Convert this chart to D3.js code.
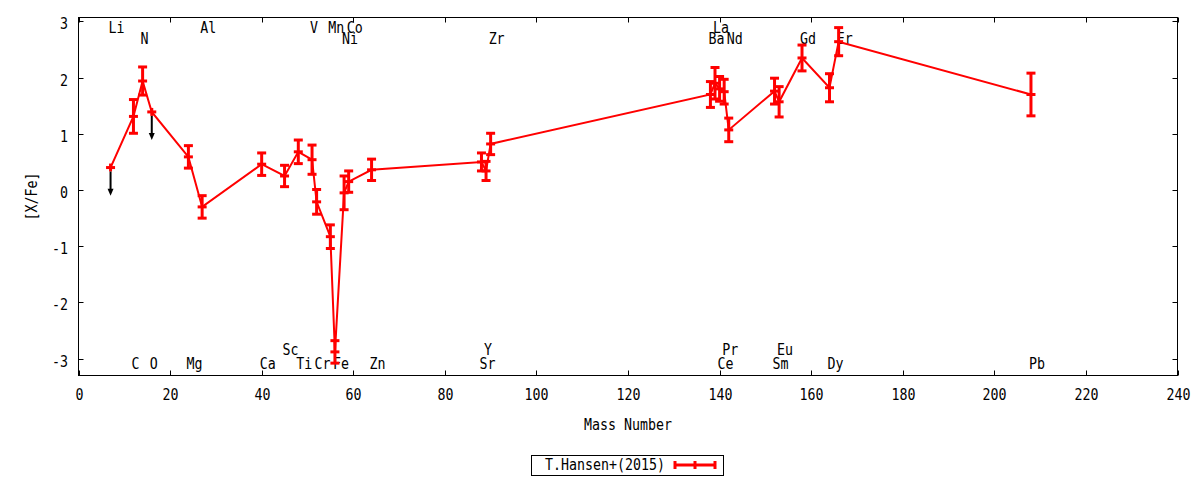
<!DOCTYPE html>
<html>
<head>
<meta charset="utf-8">
<script src="https://cdn.jsdelivr.net/npm/d3@7"></script>
<style>
    body { margin: 0; background: #ffffff; }
    text { font-family: "DejaVu Sans Mono", monospace; font-size: 15px; fill: #000000; }
</style>
</head>
<body>
<script>
// 数据点：元素、质量数、[X/Fe]、误差
const elements = ['Li', 'C', 'N', 'O', 'Mg', 'Al', 'Ca', 'Sc', 'Ti', 'V', 'Cr', 'Mn', 'Fe', 'Ni', 'Co', 'Zn',
    'Sr', 'Y', 'Zr', 'Ba', 'La', 'Ce', 'Pr', 'Nd', 'Sm', 'Eu', 'Gd', 'Dy', 'Er', 'Pb'];
const massNumbers = [7, 12, 14, 16, 24, 27, 40, 45, 48, 51, 52, 55, 56, 58, 59, 64,
    88, 89, 90, 138, 139, 140, 141, 142, 152, 153, 158, 164, 166, 208];
const abundances = [0.40, 1.31, 1.94, 1.39, 0.59, -0.30, 0.46, 0.25, 0.68, 0.54, -0.21, -0.83, -2.88, -0.05, 0.15, 0.36,
    0.50, 0.34, 0.82, 1.70, 1.90, 1.80, 1.75, 1.07, 1.76, 1.57, 2.35, 1.82, 2.64, 1.70];
const errors = [0, 0.30, 0.25, 0, 0.20, 0.20, 0.20, 0.19, 0.21, 0.26, 0.22, 0.21, 0.20, 0.30, 0.19, 0.19,
    0.16, 0.17, 0.19, 0.23, 0.28, 0.22, 0.22, 0.21, 0.23, 0.27, 0.23, 0.25, 0.25, 0.38];
// 上限值（箭头）
const upperLimits = ['Li', 'O'];
const limitLength = 0.5;

// 元素标注：名称、质量数、所在行
const labelNames = ['Li', 'Al', 'V', 'Mn', 'Co', 'La',
    'N', 'Ni', 'Zr', 'Ba', 'Nd', 'Gd', 'Er',
    'Sc', 'Y', 'Pr', 'Eu',
    'C', 'O', 'Mg', 'Ca', 'Ti', 'Cr', 'Fe', 'Zn', 'Sr', 'Ce', 'Sm', 'Dy', 'Pb'];
const labelMass = [7, 27, 51, 55, 59, 139,
    14, 58, 90, 138, 142, 158, 166,
    45, 89, 141, 153,
    12, 16, 24, 40, 48, 52, 56, 64, 88, 140, 152, 164, 208];
const labelRows = [0, 0, 0, 0, 0, 0,
    1, 1, 1, 1, 1, 1, 1,
    2, 2, 2, 2,
    3, 3, 3, 3, 3, 3, 3, 3, 3, 3, 3, 3, 3];
const labelLevels = [2.89, 2.70, -2.84, -3.09];

// 坐标轴
const xTicks = [0, 20, 40, 60, 80, 100, 120, 140, 160, 180, 200, 220, 240];
const yTicks = [-3, -2, -1, 0, 1, 2, 3];
const xDomain = [0, 240];
const yDomain = [-3.3, 3.07];
const seriesName = 'T.Hansen+(2015)';

const red = '#ff0000';
const textScaleX = 0.886;

let svg = d3.select('body')
    .append('svg')
    .attr('width', 1200)
    .attr('height', 480);

let plot = {left: 78.5, right: 1177.5, top: 17.5, bottom: 375.5};

const xScale = d3.scaleLinear().domain(xDomain).range([plot.left, plot.right]);
const yScale = d3.scaleLinear().domain(yDomain).range([plot.bottom, plot.top]);

/**
 * 添加文本（水平压缩以模拟窄字体）
 */
const addText = (parent, x, y, str, anchor = 'start', rotate = 0) => parent.append('text')
    .attr('transform', `translate(${x},${y}) rotate(${rotate}) scale(${textScaleX},1)`)
    .attr('text-anchor', anchor)
    .text(str);

// 边框
svg.append('rect')
    .attr('x', plot.left)
    .attr('y', plot.top)
    .attr('width', plot.right - plot.left)
    .attr('height', plot.bottom - plot.top)
    .attr('fill', 'none')
    .attr('stroke', '#000000')
    .attr('stroke-width', 1);

// 刻度（内向，上下左右镜像）
let ticksG = svg.append('g').attr('stroke', '#000000').attr('stroke-width', 1);
xTicks.forEach(t => {
    const x = Math.round(xScale(t)) + 0.5;
    ticksG.append('line').attr('x1', x).attr('x2', x).attr('y1', plot.bottom).attr('y2', plot.bottom - 5);
    ticksG.append('line').attr('x1', x).attr('x2', x).attr('y1', plot.top).attr('y2', plot.top + 5);
    addText(svg, x, 400, t, 'middle');
});
yTicks.forEach(t => {
    const y = Math.round(yScale(t)) + 0.5;
    ticksG.append('line').attr('x1', plot.left).attr('x2', plot.left + 5).attr('y1', y).attr('y2', y);
    ticksG.append('line').attr('x1', plot.right).attr('x2', plot.right - 5).attr('y1', y).attr('y2', y);
    addText(svg, 68, y + 7, t, 'end');
});

// 轴标题
addText(svg, (plot.left + plot.right) / 2, 430, 'Mass Number', 'middle');
addText(svg, 37, (plot.top + plot.bottom) / 2, '[X/Fe]', 'middle', -90);

// 元素标注
labelNames.forEach((name, i) => {
    addText(svg, xScale(labelMass[i]) - 2, yScale(labelLevels[labelRows[i]]) + 5.5, name);
});

// 数据点
let points = elements.map((el, i) => ({
    el: el,
    x: massNumbers[i],
    y: abundances[i],
    err: errors[i],
    limit: upperLimits.includes(el)
}));

// 连线
svg.append('path')
    .datum(points)
    .attr('fill', 'none')
    .attr('stroke', red)
    .attr('stroke-width', 2)
    .attr('d', d3.line().x(d => xScale(d.x)).y(d => yScale(d.y)));

// 误差棒与点
let barsG = svg.append('g').attr('stroke', red).attr('stroke-width', 3);
const capHalf = 4.5;
points.forEach(d => {
    const x = xScale(d.x);
    const y = yScale(d.y);
    if (d.err > 0) {
        const y1 = yScale(d.y + d.err);
        const y2 = yScale(d.y - d.err);
        barsG.append('line').attr('x1', x).attr('x2', x).attr('y1', y1).attr('y2', y2);
        barsG.append('line').attr('x1', x - capHalf).attr('x2', x + capHalf).attr('y1', y1).attr('y2', y1);
        barsG.append('line').attr('x1', x - capHalf).attr('x2', x + capHalf).attr('y1', y2).attr('y2', y2);
    } else {
        barsG.append('line').attr('x1', x).attr('x2', x).attr('y1', y - 4).attr('y2', y + 4);
    }
    barsG.append('line').attr('x1', x - capHalf).attr('x2', x + capHalf).attr('y1', y).attr('y2', y);
});

// 上限箭头
let arrowsG = svg.append('g');
points.filter(d => d.limit).forEach(d => {
    const x = xScale(d.x);
    const y1 = yScale(d.y) + 4;
    const y2 = yScale(d.y - limitLength);
    arrowsG.append('line')
        .attr('x1', x).attr('x2', x)
        .attr('y1', y1).attr('y2', y2 - 6)
        .attr('stroke', '#000000')
        .attr('stroke-width', 2);
    arrowsG.append('path')
        .attr('d', `M ${x - 3} ${y2 - 7} L ${x + 3} ${y2 - 7} L ${x} ${y2} Z`)
        .attr('fill', '#000000');
});

// 图例
let legend = svg.append('g');
legend.append('rect')
    .attr('x', 531.5)
    .attr('y', 455.5)
    .attr('width', 192)
    .attr('height', 20)
    .attr('fill', 'none')
    .attr('stroke', '#000000')
    .attr('stroke-width', 1);
addText(legend, 545, 470, seriesName);
let sampleG = legend.append('g').attr('stroke', red).attr('stroke-width', 3);
sampleG.append('line').attr('x1', 674).attr('x2', 716).attr('y1', 465).attr('y2', 465);
sampleG.append('line').attr('x1', 675).attr('x2', 675).attr('y1', 461).attr('y2', 469);
sampleG.append('line').attr('x1', 715).attr('x2', 715).attr('y1', 461).attr('y2', 469);
sampleG.append('line').attr('x1', 695).attr('x2', 695).attr('y1', 461).attr('y2', 469);
</script>
</body>
</html>
